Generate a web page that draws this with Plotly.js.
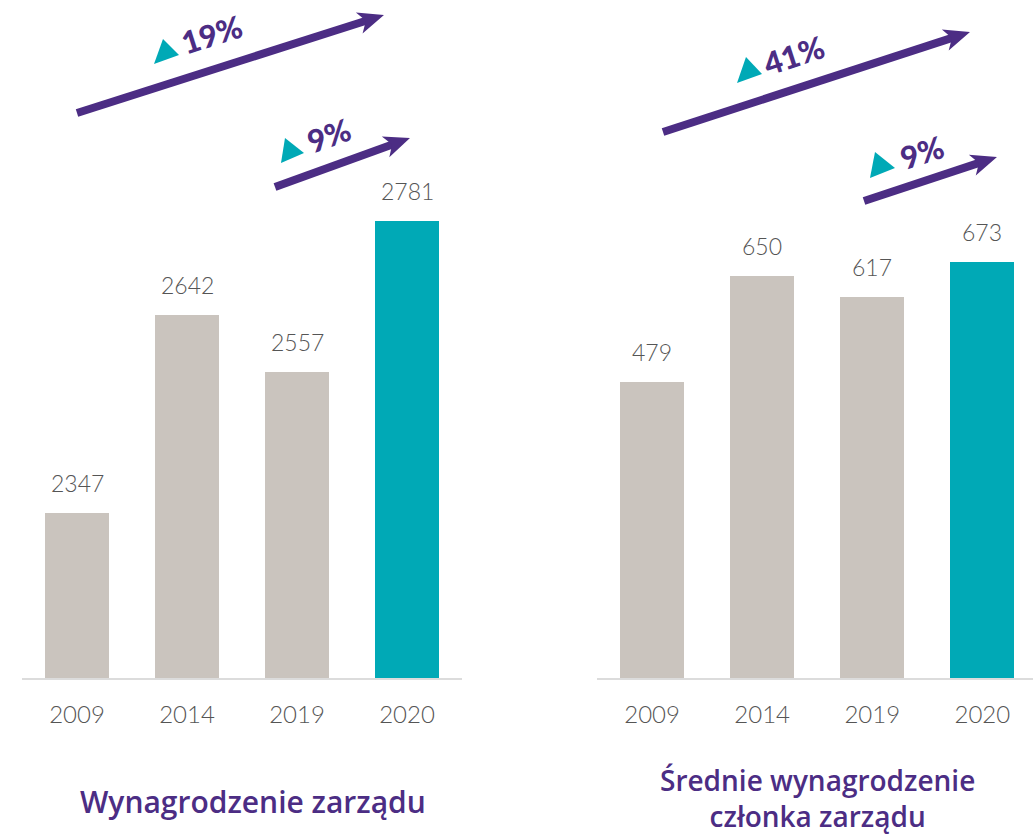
<!DOCTYPE html>
<html>
<head>
<meta charset="utf-8">
<script src="https://cdn.plot.ly/plotly-3.0.1.min.js"></script>
<style>html,body{margin:0;padding:0;background:#fff;}#chart{width:1033px;height:837px;}</style>
</head>
<body>
<div id="chart"></div>
<script>
// ---- data ----
const categories = ['2009', '2014', '2019', '2020'];
const boardTotal = [2347, 2642, 2557, 2781];
const boardMember = [479, 650, 617, 673];
const leftTitle = 'Wynagrodzenie zarządu';
const rightTitle = 'Średnie wynagrodzenie<br>członka zarządu';
const growthLabels = ['19%', '9%', '41%', '9%'];

// ---- style ----
const GREY = '#CAC4BE', TEAL = '#00A9B6', PURPLE = '#4C2D84', TXT = '#555555';
const W = 1033, PH = 678;
const px = x => x / W;
const py = y => 1 - y / PH;
const colors = categories.map((c, i) => i === categories.length - 1 ? TEAL : GREY);

const traces = [
  {type: 'bar', x: categories, y: boardTotal, xaxis: 'x', yaxis: 'y', marker: {color: colors}, width: 0.58, hoverinfo: 'x+y'},
  {type: 'bar', x: categories, y: boardMember, xaxis: 'x2', yaxis: 'y2', marker: {color: colors}, width: 0.58, hoverinfo: 'x+y'}
];

const annotations = [];
const valFont = {family: 'Lato', weight: 300, size: 23, color: TXT};
categories.forEach((c, i) => {
  annotations.push({x: i, y: boardTotal[i], xref: 'x', yref: 'y', text: String(boardTotal[i]), showarrow: false,
    yshift: 30, yanchor: 'middle', font: valFont});
  annotations.push({x: i, y: boardMember[i], xref: 'x2', yref: 'y2', text: String(boardMember[i]), showarrow: false,
    yshift: 30, yanchor: 'middle', font: valFont});
});

// titles
annotations.push({xref: 'paper', yref: 'paper', x: px(253), y: py(802), text: leftTitle, showarrow: false,
  xanchor: 'center', yanchor: 'middle', font: {family: 'Open Sans', weight: 600, size: 30, color: PURPLE}});
annotations.push({xref: 'paper', yref: 'paper', x: px(817), y: py(798), text: rightTitle, showarrow: false,
  xanchor: 'center', yanchor: 'middle', font: {family: 'Open Sans', weight: 600, size: 28, color: PURPLE}});

// growth arrows (decoration, pixel positions)
const arrows = [
  {tail: [77, 113], tip: [384, 15], label: [212, 34], tri: [[154, 64], [163, 39], [179, 55]]},
  {tail: [275, 187], tip: [410, 138], label: [329, 135], tri: [[281, 163], [285, 138], [304, 153]]},
  {tail: [663, 132], tip: [970, 32], label: [794, 55], tri: [[737, 83], [746, 57], [762, 74]]},
  {tail: [864, 201], tip: [997, 157], label: [922, 152], tri: [[870, 178], [875, 152], [895, 168]]}
];
const shapes = [];
const P = (x, y) => px(x).toFixed(5) + ',' + py(y).toFixed(5);
arrows.forEach((a, i) => {
  const dx = a.tip[0] - a.tail[0], dy = a.tip[1] - a.tail[1];
  const len = Math.hypot(dx, dy), ux = dx / len, uy = dy / len, nx = -uy, ny = ux;
  const L = 26, HW = 11, N = 7;
  const ex = a.tip[0] - (L - 8) * ux, ey = a.tip[1] - (L - 8) * uy;
  shapes.push({type: 'line', xref: 'paper', yref: 'paper', x0: px(a.tail[0]), y0: py(a.tail[1]), x1: px(ex), y1: py(ey),
    line: {color: PURPLE, width: 8}});
  const b1 = [a.tip[0] - L * ux + HW * nx, a.tip[1] - L * uy + HW * ny];
  const bm = [a.tip[0] - (L - N) * ux, a.tip[1] - (L - N) * uy];
  const b2 = [a.tip[0] - L * ux - HW * nx, a.tip[1] - L * uy - HW * ny];
  shapes.push({type: 'path', xref: 'paper', yref: 'paper', fillcolor: PURPLE, line: {width: 0},
    path: 'M' + P(a.tip[0], a.tip[1]) + 'L' + P(b1[0], b1[1]) + 'L' + P(bm[0], bm[1]) + 'L' + P(b2[0], b2[1]) + 'Z'});
  shapes.push({type: 'path', xref: 'paper', yref: 'paper', fillcolor: TEAL, line: {width: 0},
    path: 'M' + P(a.tri[0][0], a.tri[0][1]) + 'L' + P(a.tri[1][0], a.tri[1][1]) + 'L' + P(a.tri[2][0], a.tri[2][1]) + 'Z'});
  const ang = Math.atan2(dy, dx) * 180 / Math.PI;
  annotations.push({xref: 'paper', yref: 'paper', x: px(a.label[0]), y: py(a.label[1]), text: growthLabels[i], showarrow: false,
    xanchor: 'center', yanchor: 'middle', textangle: ang, font: {family: 'Lato', weight: 900, size: 31, color: PURPLE}});
});

const axisX = {type: 'category', showgrid: false, zeroline: false, showline: true, linecolor: '#DCDCDC', linewidth: 2,
  ticks: '', ticklabelstandoff: 14, tickfont: {family: 'Lato', weight: 300, size: 24, color: TXT}, fixedrange: true};

const layout = {
  width: W, height: 837, margin: {l: 0, r: 0, t: 0, b: 159},
  paper_bgcolor: '#fff', plot_bgcolor: '#fff', showlegend: false, bargap: 0,
  xaxis: Object.assign({}, axisX, {domain: [px(22), px(462)], range: [-0.5, 3.5]}),
  xaxis2: Object.assign({}, axisX, {domain: [px(597), 1], range: [-0.5, 3.46], anchor: 'y2'}),
  yaxis: {domain: [0, 1], range: [2102, 3109.5], visible: false, fixedrange: true},
  yaxis2: {domain: [0, 1], range: [0, 1097], visible: false, fixedrange: true, anchor: 'x2'},
  annotations: annotations, shapes: shapes
};

Plotly.newPlot('chart', traces, layout, {displayModeBar: false, staticPlot: true});
</script>
</body>
</html>
